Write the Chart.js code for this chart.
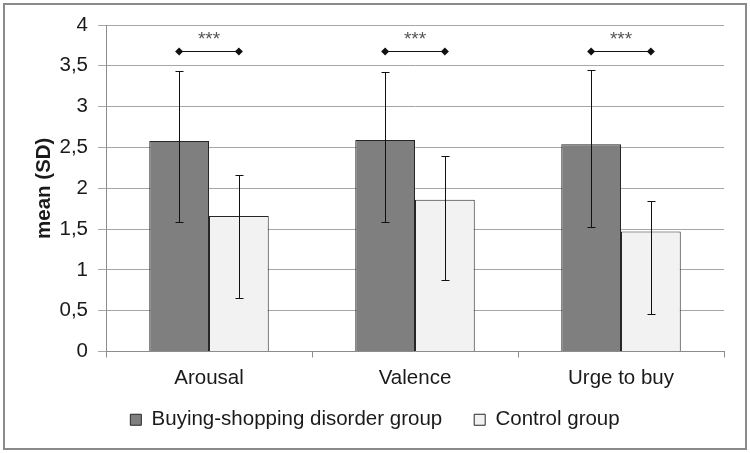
<!DOCTYPE html>
<html>
<head>
<meta charset="utf-8">
<script src="https://cdn.jsdelivr.net/npm/chart.js@4.4.1/dist/chart.umd.min.js"></script>
<style>
  body { margin: 0; background: #fff; }
  #wrap { width: 750px; height: 453px; position: relative; }
</style>
</head>
<body>
<div id="wrap"><canvas id="grafico"></canvas></div>
<script>
// dados
const categorias = ['Arousal', 'Valence', 'Urge to buy'];
const mediaBSD = [2.58, 2.59, 2.54];
const mediaControle = [1.66, 1.86, 1.47];
const bsdSup = [3.44, 3.43, 3.45];
const bsdInf = [1.59, 1.59, 1.53];
const controleSup = [2.16, 2.39, 1.84];
const controleInf = [0.66, 0.87, 0.46];
const nivelSignificancia = [3.68, 3.68, 3.68];
const rotuloSignificancia = ['***', '***', '***'];
const yTickLabels = ['0', '0,5', '1', '1,5', '2', '2,5', '3', '3,5', '4'];

Chart.defaults.font.family = "'Liberation Sans', Arial, sans-serif";
Chart.defaults.color = '#1a1a1a';

// moldura cinza em volta do gráfico
const moldura = {
  id: 'moldura',
  beforeDraw(chart) {
    const ctx = chart.ctx;
    ctx.save();
    ctx.fillStyle = '#fff';
    ctx.fillRect(0, 0, chart.width, chart.height);
    ctx.strokeStyle = '#8a8a8a';
    ctx.lineWidth = 2;
    ctx.strokeRect(4, 4, 742, 445);
    ctx.restore();
  }
};

// deixa os rótulos do eixo x descerem sem serem cortados
const soltaRotulos = {
  id: 'soltaRotulos',
  afterLayout(chart) {
    const x = chart.scales.x;
    x.bottom = x.top + 45;
    x.height = 45;
  }
};

// barras de erro (SD)
const barrasErro = {
  id: 'barrasErro',
  afterDatasetsDraw(chart) {
    const ctx = chart.ctx;
    const y = chart.scales.y;
    const limites = [[bsdSup, bsdInf], [controleSup, controleInf]];
    ctx.save();
    ctx.strokeStyle = '#111';
    ctx.lineWidth = 1;
    limites.forEach(function (lim, i) {
      chart.getDatasetMeta(i).data.forEach(function (bar, j) {
        const x = Math.round(bar.x) + 0.5;
        const yTop = Math.round(y.getPixelForValue(lim[0][j])) + 0.5;
        const yBot = Math.round(y.getPixelForValue(lim[1][j])) + 0.5;
        ctx.beginPath();
        ctx.moveTo(x, yTop);
        ctx.lineTo(x, yBot);
        ctx.moveTo(x - 4, yTop);
        ctx.lineTo(x + 4, yTop);
        ctx.moveTo(x - 4, yBot);
        ctx.lineTo(x + 4, yBot);
        ctx.stroke();
      });
    });
    ctx.restore();
  }
};

// linha de significância com ***
const significancia = {
  id: 'significancia',
  afterDatasetsDraw(chart) {
    const ctx = chart.ctx;
    const y = chart.scales.y;
    const m0 = chart.getDatasetMeta(0).data;
    const m1 = chart.getDatasetMeta(1).data;
    ctx.save();
    categorias.forEach(function (c, j) {
      const x1 = m0[j].x;
      const x2 = m1[j].x;
      const yy = Math.round(y.getPixelForValue(nivelSignificancia[j])) + 0.5;
      ctx.strokeStyle = '#111';
      ctx.lineWidth = 1;
      ctx.beginPath();
      ctx.moveTo(x1, yy);
      ctx.lineTo(x2, yy);
      ctx.stroke();
      ctx.fillStyle = '#111';
      [x1, x2].forEach(function (x) {
        ctx.beginPath();
        ctx.moveTo(x, yy - 4);
        ctx.lineTo(x + 4, yy);
        ctx.lineTo(x, yy + 4);
        ctx.lineTo(x - 4, yy);
        ctx.closePath();
        ctx.fill();
      });
      ctx.fillStyle = '#555';
      ctx.font = "19px 'Liberation Sans', Arial, sans-serif";
      ctx.textAlign = 'center';
      ctx.textBaseline = 'middle';
      ctx.fillText(rotuloSignificancia[j], (x1 + x2) / 2, yy - 12);
    });
    ctx.restore();
  }
};

const ctx = document.getElementById('grafico').getContext('2d');
new Chart(ctx, {
  type: 'bar',
  data: {
    labels: categorias,
    datasets: [
      {
        label: 'Buying-shopping disorder group',
        data: mediaBSD,
        backgroundColor: '#7f7f7f',
        borderColor: '#262626',
        borderWidth: 1
      },
      {
        label: 'Control group',
        data: mediaControle,
        backgroundColor: '#f2f2f2',
        borderColor: '#262626',
        borderWidth: 1
      }
    ]
  },
  options: {
    responsive: true,
    maintainAspectRatio: false,
    animation: false,
    layout: {
      padding: { left: 4, right: 4, top: 25, bottom: 13 }
    },
    datasets: {
      bar: { categoryPercentage: 0.58, barPercentage: 1 }
    },
    scales: {
      x: {
        grid: {
          offset: true,
          drawOnChartArea: false,
          drawTicks: true,
          tickLength: 6,
          color: '#8c8c8c'
        },
        border: { color: '#8c8c8c' },
        ticks: { font: { size: 20.5 }, padding: 9, color: '#1a1a1a' },
        afterFit: function (scale) {
          scale.height = 26;
        }
      },
      y: {
        min: 0,
        max: 4,
        ticks: {
          stepSize: 0.5,
          font: { size: 20.5 },
          padding: 10,
          color: '#1a1a1a',
          callback: function (value, index) {
            return yTickLabels[index];
          }
        },
        grid: { color: '#a6a6a6', tickLength: 8 },
        border: { color: '#8c8c8c' },
        title: {
          display: true,
          text: 'mean (SD)',
          font: { size: 20.5, weight: 'bold' },
          color: '#1a1a1a',
          padding: { top: 28, bottom: 0 }
        },
        afterFit: function (scale) {
          scale.width = 102;
          scale.paddingTop = 0;
          scale.paddingBottom = 0;
        }
      },
      // eixo vazio à direita, só para reservar a margem
      yDireita: {
        position: 'right',
        display: true,
        grid: { display: false },
        border: { display: false },
        ticks: { display: false },
        afterFit: function (scale) {
          scale.width = 22;
          scale.paddingTop = 0;
          scale.paddingBottom = 0;
        }
      }
    },
    plugins: {
      legend: {
        position: 'bottom',
        labels: {
          boxWidth: 11,
          boxHeight: 11,
          padding: 32,
          font: { size: 20.5 },
          color: '#1a1a1a'
        }
      },
      tooltip: { enabled: false }
    }
  },
  plugins: [moldura, soltaRotulos, barrasErro, significancia]
});
</script>
</body>
</html>
